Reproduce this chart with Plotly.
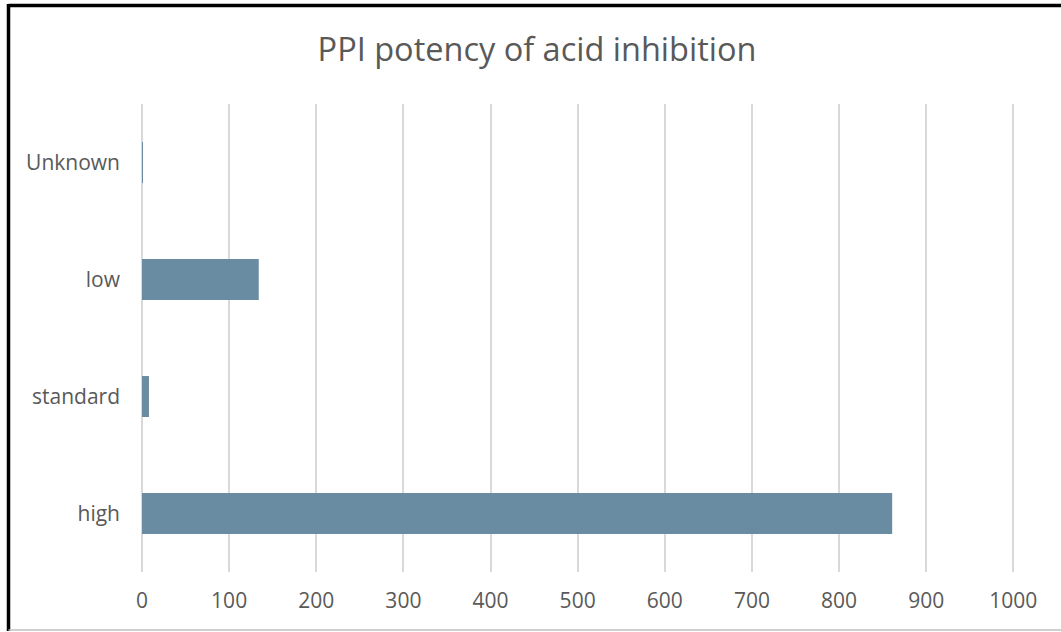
import plotly.graph_objects as go

# Categories listed bottom-to-top, as plotly stacks categorical y upwards
categories = ["high", "standard", "low", "Unknown"]
counts = [861, 8, 134, 1]
x_ticks = [0, 100, 200, 300, 400, 500, 600, 700, 800, 900, 1000]

W, H = 1061, 632
# axis runs slightly past 1000 so the last gridline is drawn inside the plot
X_MAX = 1010
L, T, B = 142, 104, 60
R = round(W - L - 871.6 * X_MAX / 1000)
TEXT = "#595959"
FONT = "Open Sans, sans-serif"

fig = go.Figure(
    go.Bar(
        x=counts,
        y=categories,
        orientation="h",
        marker=dict(color="#6a8ca3", line=dict(width=0)),
        hoverinfo="x+y",
    )
)

pw, ph = W - L - R, H - T - B


def px_x(p):
    return (p - L) / pw


def px_y(p):
    return (H - B - p) / ph


# Frame around the chart: heavy black top/left edges, thin grey bottom edge
frame = [
    dict(x0=px_x(8.5), x1=px_x(1061), y0=px_y(5.5), y1=px_y(5.5), color="#000000", w=3.5),
    dict(x0=px_x(8.5), x1=px_x(8.5), y0=px_y(4), y1=px_y(631), color="#000000", w=3.5),
    dict(x0=px_x(8.5), x1=px_x(1061), y0=px_y(630), y1=px_y(630), color="#bfbfbf", w=1.5),
]
for f in frame:
    fig.add_shape(
        type="line", xref="paper", yref="paper",
        x0=f["x0"], x1=f["x1"], y0=f["y0"], y1=f["y1"],
        line=dict(color=f["color"], width=f["w"]),
    )

fig.update_layout(
    width=W,
    height=H,
    margin=dict(l=L, r=R, t=T, b=B, pad=0),
    paper_bgcolor="white",
    plot_bgcolor="white",
    font=dict(family=FONT, color=TEXT),
    showlegend=False,
    bargap=0.65,
    title=dict(
        text="PPI potency of acid inhibition",
        x=(537 / W), xanchor="center",
        y=1 - 50 / H, yanchor="middle",
        font=dict(size=32.5, color=TEXT, family=FONT),
    ),
    xaxis=dict(
        range=[0, X_MAX],
        tickvals=x_ticks,
        ticktext=[str(v) for v in x_ticks],
        showgrid=True,
        gridcolor="#d9d9d9",
        gridwidth=2,
        zeroline=True,
        zerolinecolor="#d9d9d9",
        zerolinewidth=2,
        showline=False,
        ticks="",
        ticklabelstandoff=14,
        tickfont=dict(size=21, color=TEXT, family=FONT),
        fixedrange=True,
    ),
    yaxis=dict(
        categoryorder="array",
        categoryarray=categories,
        showgrid=False,
        zeroline=False,
        showline=False,
        ticks="",
        ticklabelstandoff=21,
        tickfont=dict(size=21, color=TEXT, family=FONT),
        fixedrange=True,
    ),
)

fig.write_html("out.html", include_plotlyjs=True, config={"displayModeBar": False})
